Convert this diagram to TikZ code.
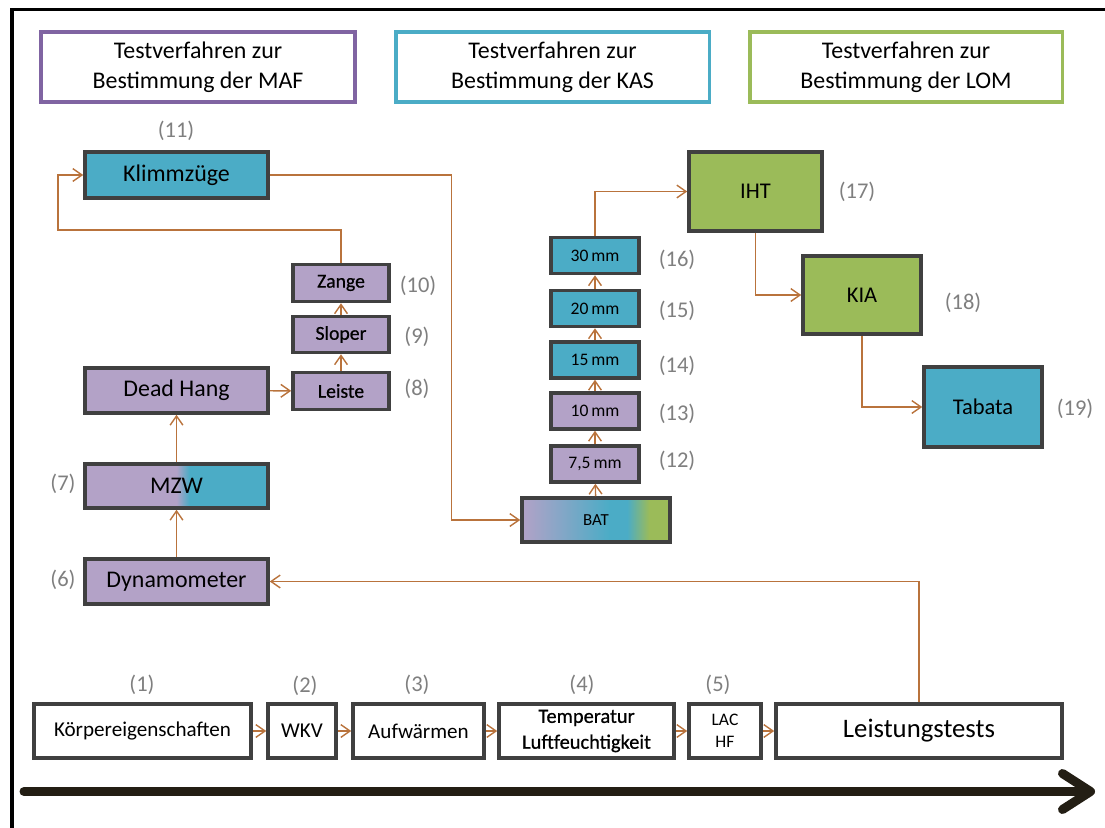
\documentclass[tikz,border=0pt]{standalone}
\usepackage{fontspec}
\setmainfont{Carlito}
\newfontfamily\semibold[FakeBold=0.7]{Carlito}
\usetikzlibrary{arrows.meta,calc}

\definecolor{mafpurple}{RGB}{128,100,162}
\definecolor{maffill}{RGB}{179,162,199}
\definecolor{kasblue}{RGB}{75,172,198}
\definecolor{lomgreen}{RGB}{155,187,89}
\definecolor{boxgray}{RGB}{64,64,64}
\definecolor{linkbrown}{RGB}{185,115,60}
\definecolor{numgray}{RGB}{127,127,127}
\definecolor{timeblack}{RGB}{35,30,20}

\pgfdeclarehorizontalshading{mzwshade}{100bp}{color(0bp)=(maffill); color(50bp)=(maffill);
  color(53.5bp)=(kasblue); color(100bp)=(kasblue)}
\pgfdeclarehorizontalshading{batshade}{100bp}{color(0bp)=(maffill); color(25bp)=(maffill);
  color(54.5bp)=(kasblue); color(60.5bp)=(kasblue); color(68bp)=(lomgreen); color(100bp)=(lomgreen)}

\begin{document}
\begin{tikzpicture}[x=0.025cm,y=-0.025cm,
    hdr/.style={draw=#1,line width=2.2pt,fill=white,minimum height=1.75cm,inner sep=0pt,
      align=center,font=\fontsize{17}{21}\selectfont},
    test/.style={draw=boxgray,line width=2.5pt,fill=#1,inner sep=0pt,
      font=\fontsize{17}{20}\selectfont},
    shadebox/.style={draw=boxgray,line width=2.5pt,shade,shading=#1,inner sep=0pt,
      font=\fontsize{17}{20}\selectfont},
    stage/.style={draw=boxgray,line width=2.5pt,fill=white,minimum height=1.35cm,inner sep=0pt,
      align=center,font=\fontsize{15}{18}\selectfont},
    conn/.style={draw=linkbrown,line width=1pt,-{Straight Barb[length=2.3mm,width=3.2mm]}},
    num/.style={text=numgray,font=\fontsize{16}{19}\selectfont}]
    \useasboundingbox (0,0) rectangle (1105,828);
    % frame
    \draw[line width=2.5pt] (12,840) -- (12,9.5) -- (1115,9.5);

    % headers
    \node[hdr=mafpurple,minimum width=7.85cm] (maf) at (198,67) {Testverfahren zur\\Bestimmung der MAF};
    \node[hdr=kasblue,minimum width=7.825cm] (kas) at (552.5,67) {Testverfahren zur\\Bestimmung der KAS};
    \node[hdr=lomgreen,minimum width=7.8cm] (lom) at (906,67) {Testverfahren zur\\Bestimmung der LOM};

    % MAF tests
    \node[test=kasblue,minimum width=4.575cm,minimum height=1.15cm] (klimm) at (176.5,175) {Klimmzüge};
    \node[test=maffill,minimum width=4.575cm,minimum height=1.125cm] (deadhang) at (176.5,390.5) {Dead Hang};
    \node[shadebox=mzwshade,minimum width=4.575cm,minimum height=1.1cm] (mzw) at (176.5,486) {MZW};
    \node[test=maffill,minimum width=4.575cm,minimum height=1.125cm] (dyna) at (176.5,581.5) {Dynamometer};
    \node[test=maffill,minimum width=2.4cm,minimum height=0.925cm,font=\fontsize{14}{17}\semibold] (zange) at (341,283) {Zange};
    \node[test=maffill,minimum width=2.4cm,minimum height=0.9cm,font=\fontsize{14}{17}\semibold] (sloper) at (341,334.5) {Sloper};
    \node[test=maffill,minimum width=2.4cm,minimum height=0.925cm,font=\fontsize{14}{17}\semibold] (leiste) at (341,391) {Leiste};

    % KAS tests
    \node[shadebox=batshade,minimum width=3.7cm,minimum height=1.1cm,font=\fontsize{12}{14}\selectfont] (bat) at (596,520) {BAT};
    \foreach \name/\y/\col/\txt in {m75/464/maffill/{7,5\,mm}, m10/411/maffill/{10\,mm},
        m15/360/kasblue/{15\,mm}, m20/308.5/kasblue/{20\,mm}, m30/255.5/kasblue/{30\,mm}}
      \node[test=\col,minimum width=2.2cm,minimum height=0.9cm,font=\fontsize{12.5}{14}\selectfont] (\name) at (595,\y) {\txt};

    % LOM tests
    \node[test=lomgreen,minimum width=3.325cm,minimum height=1.975cm,font=\fontsize{16}{19}\selectfont] (iht) at (755.5,191.5) {IHT};
    \node[test=lomgreen,minimum width=2.95cm,minimum height=1.95cm,font=\fontsize{16}{19}\selectfont] (kia) at (862,295) {KIA};
    \node[test=kasblue,minimum width=2.95cm,minimum height=2cm,font=\fontsize{16}{19}\selectfont] (tabata) at (983,407) {Tabata};

    % timeline stages
    \node[stage,minimum width=5.425cm] (koerper) at (142.5,731) {Körpereigenschaften};
    \node[stage,minimum width=1.7cm] (wkv) at (302,731) {WKV};
    \node[stage,minimum width=3.275cm] (aufw) at (418.5,731) {Aufwärmen};
    \node[stage,minimum width=4.375cm,font=\fontsize{14.5}{18.4}\semibold] (temp) at (586.5,731) {Temperatur\\Luftfeuchtigkeit};
    \node[stage,minimum width=1.8cm,font=\fontsize{12.5}{15.5}\selectfont] (lac) at (725,731) {LAC\\HF};
    \node[stage,minimum width=7.15cm,font=\fontsize{19}{22}\selectfont] (leist) at (919,731) {Leistungstests};

    % numbers
    \foreach \name/\x/\y/\txt in {n1/142/685/1, n2/305/686/2, n3/417/685/3, n4/582/685/4, n5/718/685/5,
        n6/63/580/6, n7/63/484/7, n8/417/389/8, n9/417/337/9, n10/418/286/10, n11/176/131/11,
        n12/677/461/12, n13/677/414/13, n14/677/366/14, n15/677/311/15, n16/677/260/16,
        n17/857/192/17, n18/963/303/18, n19/1075/409/19}
      \node[num] (\name) at (\x,\y) {(\txt)};

    % connectors
    \draw[conn] (koerper) -- (wkv);
    \draw[conn] (wkv) -- (aufw);
    \draw[conn] (aufw) -- (temp);
    \draw[conn] (temp) -- (lac);
    \draw[conn] (lac) -- (leist);
    \draw[conn] (leist.north) |- (dyna.east);
    \draw[conn] (dyna) -- (mzw);
    \draw[conn] (mzw) -- (deadhang);
    \draw[conn] (deadhang) -- (leiste);
    \draw[conn] (leiste) -- (sloper);
    \draw[conn] (sloper) -- (zange);
    \draw[conn] (zange.north) |- (58,230) |- (klimm.west);
    \draw[conn] (klimm.east) -| ($(bat.west)+(-69,0)$) -- (bat.west);
    \draw[conn] (bat) -- (m75);
    \draw[conn] (m75) -- (m10);
    \draw[conn] (m10) -- (m15);
    \draw[conn] (m15) -- (m20);
    \draw[conn] (m20) -- (m30);
    \draw[conn] (m30.north) |- (iht.west);
    \draw[conn] (iht.south) |- (kia.west);
    \draw[conn] (kia.south) |- (tabata.west);

    % time arrow
    \coordinate (tstart) at (24,791.5);
    \coordinate (tend) at (1095,791.5);
    \draw[timeblack,line width=6.4pt,line cap=round,-{Straight Barb[length=7mm,width=9mm,round]}] (tstart) -- (tend);
\end{tikzpicture}
\end{document}
